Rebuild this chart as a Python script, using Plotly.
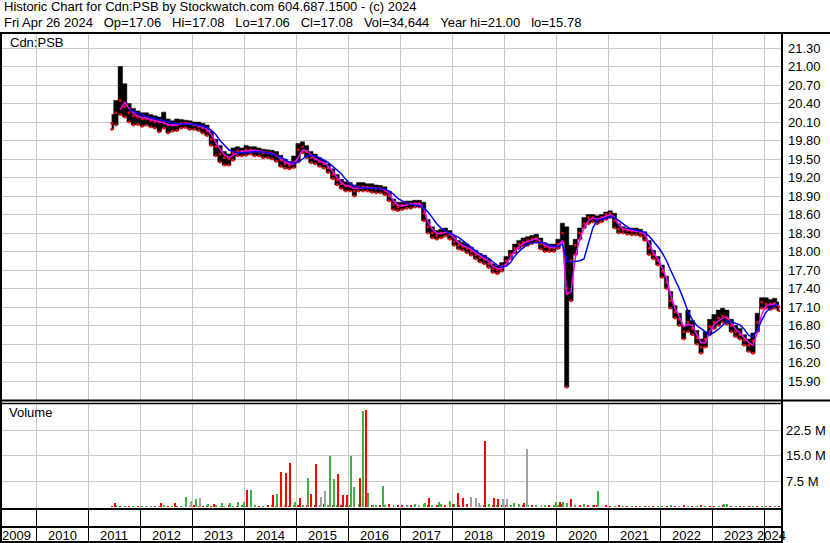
import plotly.graph_objects as go

W, H = 830, 543

# ---------------- data ----------------
months = [f"{y}-{m:02d}-15" for y in range(2011, 2025) for m in range(1, 13)
          if (2011, 6) <= (y, m) <= (2024, 4)]

hi = [20.22, 20.45, 21.00, 20.72, 20.40, 20.32, 20.28,
      20.25, 20.25, 20.22, 20.20, 20.18, 20.26, 20.15, 20.12, 20.15, 20.14, 20.13, 20.12,
      20.10, 20.10, 20.08, 20.05, 19.95, 19.82, 19.72, 19.62, 19.58, 19.68, 19.70, 19.68,
      19.72, 19.70, 19.70, 19.68, 19.66, 19.65, 19.64, 19.62, 19.56, 19.50, 19.46, 19.55,
      19.75, 19.78, 19.72, 19.62, 19.58, 19.52, 19.48, 19.42, 19.34, 19.25, 19.17, 19.13,
      19.12, 19.08, 19.12, 19.12, 19.10, 19.10, 19.08, 19.07, 19.05, 18.98, 18.85, 18.80,
      18.80, 18.82, 18.82, 18.83, 18.83, 18.80, 18.52, 18.40, 18.34, 18.36, 18.38, 18.34,
      18.25, 18.18, 18.15, 18.12, 18.07, 18.02, 17.97, 17.94, 17.88, 17.80, 17.77, 17.82,
      17.92, 18.02, 18.12, 18.18, 18.22, 18.24, 18.26, 18.28, 18.22, 18.14, 18.12, 18.12,
      18.20, 18.46, 18.40, 18.10, 18.20, 18.38, 18.55, 18.60, 18.60, 18.58, 18.60, 18.64,
      18.66, 18.62, 18.45, 18.40, 18.38, 18.38, 18.38, 18.36, 18.32, 18.18, 18.02, 17.92,
      17.78, 17.60, 17.35, 17.12, 17.00, 16.80, 17.05, 16.88, 16.72, 16.58, 16.70, 16.90,
      16.98, 17.05, 17.08, 17.05, 16.90, 16.80, 16.75, 16.65, 16.58, 16.68, 17.00, 17.25,
      17.25, 17.22, 17.24, 17.18]

lo = [19.98, 20.05, 20.22, 20.18, 20.10, 20.05, 20.06,
      20.03, 20.05, 20.02, 20.00, 19.94, 20.00, 19.92, 19.95, 19.96, 20.00, 20.01, 19.98,
      19.98, 19.96, 19.92, 19.88, 19.72, 19.55, 19.45, 19.40, 19.40, 19.48, 19.55, 19.55,
      19.56, 19.58, 19.55, 19.55, 19.52, 19.52, 19.50, 19.46, 19.38, 19.35, 19.34, 19.36,
      19.45, 19.60, 19.52, 19.44, 19.42, 19.38, 19.35, 19.28, 19.18, 19.08, 19.02, 18.98,
      18.98, 18.90, 18.98, 18.98, 18.98, 18.96, 18.95, 18.95, 18.92, 18.82, 18.68, 18.66,
      18.68, 18.70, 18.70, 18.72, 18.72, 18.50, 18.30, 18.22, 18.20, 18.22, 18.25, 18.20,
      18.10, 18.04, 18.02, 17.98, 17.94, 17.88, 17.83, 17.80, 17.74, 17.66, 17.64, 17.68,
      17.78, 17.88, 17.98, 18.05, 18.08, 18.10, 18.13, 18.15, 18.04, 18.00, 18.00, 18.00,
      18.05, 18.15, 15.80, 17.20, 17.95, 18.20, 18.38, 18.45, 18.48, 18.45, 18.48, 18.52,
      18.55, 18.38, 18.30, 18.30, 18.28, 18.27, 18.27, 18.25, 18.18, 17.95, 17.88, 17.78,
      17.58, 17.40, 17.08, 16.92, 16.80, 16.58, 16.70, 16.65, 16.50, 16.35, 16.45, 16.65,
      16.75, 16.80, 16.85, 16.82, 16.70, 16.62, 16.58, 16.48, 16.38, 16.35, 16.70, 17.08,
      17.08, 17.06, 17.08, 17.04]

cl = [20.08, 20.25, 20.45, 20.35, 20.25, 20.20, 20.18,
      20.15, 20.15, 20.12, 20.10, 20.10, 20.08, 20.05, 20.05, 20.05, 20.08, 20.08, 20.07,
      20.05, 20.03, 20.00, 19.95, 19.82, 19.70, 19.58, 19.52, 19.50, 19.60, 19.63, 19.62,
      19.65, 19.65, 19.63, 19.62, 19.60, 19.60, 19.58, 19.55, 19.48, 19.42, 19.40, 19.45,
      19.65, 19.70, 19.62, 19.52, 19.50, 19.45, 19.42, 19.35, 19.25, 19.16, 19.10, 19.06,
      19.05, 18.98, 19.05, 19.05, 19.04, 19.03, 19.02, 19.02, 18.98, 18.90, 18.76, 18.72,
      18.75, 18.77, 18.77, 18.78, 18.78, 18.62, 18.40, 18.30, 18.26, 18.30, 18.32, 18.28,
      18.16, 18.10, 18.08, 18.05, 18.00, 17.95, 17.90, 17.87, 17.80, 17.72, 17.70, 17.76,
      17.85, 17.95, 18.05, 18.12, 18.15, 18.18, 18.20, 18.22, 18.12, 18.08, 18.05, 18.06,
      18.12, 18.30, 17.40, 17.85, 18.10, 18.30, 18.45, 18.55, 18.55, 18.52, 18.55, 18.60,
      18.62, 18.50, 18.36, 18.35, 18.34, 18.33, 18.33, 18.30, 18.25, 18.05, 17.95, 17.85,
      17.68, 17.50, 17.20, 17.02, 16.90, 16.70, 16.85, 16.75, 16.60, 16.45, 16.58, 16.78,
      16.85, 16.92, 16.95, 16.92, 16.80, 16.70, 16.65, 16.56, 16.48, 16.55, 16.85, 17.18,
      17.15, 17.15, 17.16, 17.10]

ma_fast = [None, None, 20.30, 20.42, 20.32, 20.24, 20.20,
           20.17, 20.16, 20.14, 20.12, 20.10, 20.09, 20.06, 20.05, 20.05, 20.07, 20.08, 20.07,
           20.06, 20.04, 20.02, 19.98, 19.90, 19.78, 19.66, 19.57, 19.52, 19.56, 19.60, 19.62,
           19.63, 19.64, 19.64, 19.63, 19.61, 19.60, 19.59, 19.56, 19.50, 19.45, 19.42, 19.42,
           19.52, 19.65, 19.64, 19.56, 19.50, 19.47, 19.44, 19.38, 19.30, 19.20, 19.12, 19.07,
           19.06, 19.02, 19.03, 19.04, 19.04, 19.03, 19.03, 19.02, 19.00, 18.94, 18.82, 18.75,
           18.74, 18.76, 18.77, 18.77, 18.78, 18.70, 18.48, 18.36, 18.29, 18.29, 18.31, 18.30,
           18.22, 18.14, 18.10, 18.07, 18.03, 17.98, 17.93, 17.89, 17.84, 17.76, 17.72, 17.72,
           17.80, 17.90, 18.00, 18.08, 18.13, 18.16, 18.19, 18.21, 18.16, 18.10, 18.07, 18.06,
           18.09, 18.18, 17.30, 17.35, 17.90, 18.20, 18.38, 18.50, 18.54, 18.53, 18.54, 18.57,
           18.60, 18.56, 18.44, 18.37, 18.35, 18.34, 18.33, 18.32, 18.28, 18.12, 17.98, 17.88,
           17.74, 17.56, 17.30, 17.08, 16.95, 16.78, 16.82, 16.80, 16.66, 16.52, 16.52, 16.70,
           16.82, 16.88, 16.92, 16.94, 16.85, 16.74, 16.68, 16.60, 16.52, 16.48, 16.68, 16.98,
           17.12, 17.14, 17.15, 17.12]

ma_slow = [None, None, None, None, 20.30, 20.27, 20.25,
           20.22, 20.19, 20.17, 20.16, 20.14, 20.12, 20.10, 20.08, 20.07, 20.07, 20.07, 20.07,
           20.06, 20.05, 20.03, 20.01, 19.97, 19.90, 19.80, 19.72, 19.65, 19.62, 19.60, 19.60,
           19.60, 19.61, 19.62, 19.62, 19.61, 19.60, 19.58, 19.56, 19.53, 19.49, 19.45, 19.43,
           19.45, 19.50, 19.55, 19.56, 19.55, 19.52, 19.48, 19.44, 19.38, 19.32, 19.26, 19.17,
           19.10, 19.06, 19.04, 19.03, 19.03, 19.03, 19.03, 19.02, 19.01, 18.98, 18.93, 18.86,
           18.82, 18.78, 18.76, 18.75, 18.74, 18.71, 18.64, 18.55, 18.45, 18.38, 18.33, 18.30,
           18.27, 18.23, 18.18, 18.12, 18.06, 18.01, 17.96, 17.92, 17.89, 17.83, 17.78, 17.75,
           17.76, 17.82, 17.92, 18.00, 18.06, 18.12, 18.14, 18.15, 18.15, 18.13, 18.10, 18.08,
           18.08, 18.12, 17.85, 17.83, 17.84, 17.85, 17.88, 18.12, 18.38, 18.51, 18.53, 18.55,
           18.56, 18.55, 18.50, 18.45, 18.40, 18.36, 18.34, 18.32, 18.31, 18.25, 18.17, 18.08,
           17.98, 17.85, 17.70, 17.55, 17.40, 17.22, 17.03, 16.90, 16.80, 16.75, 16.70, 16.65,
           16.69, 16.74, 16.80, 16.88, 16.86, 16.84, 16.81, 16.74, 16.64, 16.62, 16.72, 16.88,
           17.02, 17.08, 17.13, 17.15]

# monthly background volume (millions) and colour code (R=down, G=up, K=unchanged)
vol_base = [0.5, 0.6, 0.4, 0.5, 0.3, 0.4, 0.3,
            0.4, 0.3, 0.5, 0.4, 0.3, 0.6, 0.4, 0.3, 0.5, 0.4, 0.6, 0.5,
            0.6, 0.5, 0.4, 0.6, 0.5, 0.7, 0.5, 0.4, 0.6, 0.5, 0.4, 0.6,
            0.5, 0.7, 0.6, 0.4, 0.5, 0.6, 0.8, 0.5, 0.6, 0.7, 0.5, 0.6,
            0.7, 0.6, 0.8, 0.5, 0.6, 0.7, 0.9, 0.6, 0.7, 0.6, 0.8, 0.7,
            0.8, 0.7, 0.9, 0.6, 0.8, 0.7, 0.6, 0.8, 0.7, 0.9, 0.6, 0.7,
            0.6, 0.8, 0.7, 0.9, 0.6, 1.0, 0.7, 0.8, 0.6, 0.9, 0.7, 0.8,
            0.9, 0.7, 0.8, 1.0, 0.7, 0.9, 0.8, 0.6, 0.9, 0.7, 0.8, 0.6,
            0.7, 0.8, 0.6, 0.9, 0.7, 0.8, 0.6, 0.7, 0.8, 0.6, 0.7, 0.8,
            0.7, 0.9, 1.2, 0.8, 0.6, 0.7, 0.9, 0.6, 0.7, 0.8, 0.5, 0.6,
            0.5, 0.4, 0.6, 0.4, 0.5, 0.3, 0.4, 0.5, 0.3, 0.4, 0.5, 0.4,
            0.5, 0.4, 0.6, 0.5, 0.4, 0.6, 0.4, 0.3, 0.5, 0.7, 0.4, 0.5,
            0.4, 0.5, 0.6, 0.5, 0.4, 0.3, 0.5, 0.4, 0.3, 0.5, 0.4, 0.5,
            0.4, 0.3, 0.5, 0.4]
vol_base_col = list("RGRGRGR" "GRGRKGRGRGRG" "RGRGRGKGRGRG" "GRGRGRGRGKRG" "RGRGRGRGRGRG"
                    "GRGRGRGRGRGR" "RGRGKGRGRGRG" "GRGRGRKRGRGR" "RGRGRGRGKGRG" "GRGRGRGRGRGR"
                    "RGRGRGRGRGRG" "GRGRKRGRGRGR" "RGRGRGRGRGRG" "GRGR")

spike_dates = ["2011-07-08", "2012-05-27", "2012-09-03", "2012-11-19", "2012-12-24", "2013-01-29",
               "2013-02-25", "2013-04-22", "2013-06-04", "2013-07-30", "2013-09-24", "2013-11-19",
               "2014-01-01", "2014-01-22", "2014-02-19", "2014-07-23", "2014-08-20", "2014-09-17",
               "2014-10-22", "2014-11-19", "2014-12-24", "2015-01-29", "2015-02-19", "2015-03-26",
               "2015-04-16", "2015-05-21", "2015-06-25", "2015-07-23", "2015-08-27", "2015-09-24",
               "2015-10-22", "2015-11-26", "2015-12-24", "2016-01-22", "2016-02-12", "2016-03-26",
               "2016-04-16", "2016-05-06", "2016-05-21", "2016-06-25", "2016-09-03", "2017-06-25",
               "2017-07-23", "2017-10-01", "2017-12-17", "2018-01-08", "2018-02-12", "2018-03-18",
               "2018-05-14", "2018-06-18", "2018-07-08", "2018-08-20", "2018-10-22", "2018-11-19",
               "2018-12-24", "2019-01-22", "2019-03-11", "2019-05-21", "2019-06-10", "2020-01-01",
               "2020-01-29", "2020-02-19", "2020-03-18", "2020-04-16", "2020-09-24", "2020-10-22",
               "2023-03-26", "2023-04-16"]
spike_vals = [1.4, 1.2, 1.4, 3.0, 1.9, 2.5, 2.85, 0.9, 0.9, 1.3, 1.4, 1.7,
              1.7, 5.1, 5.1, 3.6, 3.9, 10.4, 10.1, 12.9, 1.7, 2.9, 0.8, 8.7,
              3.8, 12.6, 3.1, 4.9, 15.0, 8.3, 9.8, 3.6, 3.6, 15.0, 6.0, 8.7,
              28.0, 28.3, 4.3, 0.8, 6.2, 1.3, 2.7, 1.5, 2.0, 1.0, 4.2, 2.7,
              3.1, 2.7, 1.3, 19.3, 2.7, 2.5, 2.4, 2.4, 1.2, 1.2, 17.0, 1.5,
              1.6, 1.7, 0.9, 2.5, 0.8, 4.8, 0.9, 1.1]
spike_cols = ["R", "R", "R", "G", "K", "G", "K", "G", "R", "G", "G", "G",
              "G", "R", "G", "R", "G", "R", "R", "R", "G", "R", "G", "G",
              "R", "R", "K", "K", "G", "G", "R", "R", "R", "G", "G", "R",
              "G", "R", "G", "G", "G", "G", "R", "G", "G", "R", "R", "R",
              "K", "K", "K", "R", "R", "R", "K", "K", "G", "R", "K", "G",
              "R", "G", "G", "R", "R", "G", "G", "G"]

price_ticks = [15.90, 16.20, 16.50, 16.80, 17.10, 17.40, 17.70, 18.00, 18.30, 18.60,
               18.90, 19.20, 19.50, 19.80, 20.10, 20.40, 20.70, 21.00, 21.30]
vol_ticks = [7.5, 15.0, 22.5]
vol_tick_text = ["7.5 M", "15.0 M", "22.5 M"]
year_lines = ["2010-01-01", "2011-01-01", "2012-01-01", "2013-01-01", "2014-01-01",
              "2015-01-01", "2016-01-01", "2017-01-01", "2018-01-01", "2019-01-01",
              "2020-01-01", "2021-01-01", "2022-01-01", "2023-01-01", "2024-01-01"]
year_labels = ["2009", "2010", "2011", "2012", "2013", "2014", "2015", "2016",
               "2017", "2018", "2019", "2020", "2021", "2022", "2023", "2024"]
year_label_at = ["2009-08-16", "2010-07-02", "2011-07-02", "2012-07-02", "2013-07-02",
                 "2014-07-02", "2015-07-02", "2016-07-02", "2017-07-02", "2018-07-02",
                 "2019-07-02", "2020-07-02", "2021-07-02", "2022-07-02", "2023-07-02",
                 "2024-02-19"]

SP = "\u00a0\u00a0\u00a0"
header1 = "Historic Chart for Cdn:PSB by Stockwatch.com 604.687.1500 - (c) 2024"
header2 = SP.join(["Fri Apr 26 2024", "Op=17.06", "Hi=17.08", "Lo=17.06", "Cl=17.08",
                   "Vol=34,644", "Year hi=21.00", "lo=15.78"])

# ---------------- styling ----------------
FONT = "Arial, 'Liberation Sans', sans-serif"
GRID = "#c8c8c8"
COLS = {"R": "#ff0000", "G": "#3cb43c", "K": "#a0a0a0"}
X_RANGE = ["2009-05-06", "2024-05-06"]


def px(x):
    return x / W


def py(y):
    return 1 - y / H


XD = [px(2), px(782)]
PRICE_D = [py(400), py(34)]
VOL_D = [py(509), py(403)]
BAND_D = [0, py(509)]

fig = go.Figure()

# price bars (band between monthly high and low)
fig.add_trace(go.Scatter(x=months, y=hi, mode="lines", xaxis="x", yaxis="y",
                         line=dict(color="black", width=0.5, shape="hvh"), hoverinfo="skip"))
fig.add_trace(go.Scatter(x=months, y=lo, mode="lines", xaxis="x", yaxis="y", fill="tonexty",
                         fillcolor="black", line=dict(color="black", width=0.5, shape="hvh"),
                         hoverinfo="skip"))
fig.add_trace(go.Scatter(x=months, y=lo, mode="markers", xaxis="x", yaxis="y",
                         marker=dict(color="red", size=2.5, symbol="square")))
fig.add_trace(go.Scatter(x=months, y=cl, mode="markers", xaxis="x", yaxis="y",
                         marker=dict(color="red", size=2.5, symbol="square")))
fig.add_trace(go.Scatter(x=months, y=ma_fast, mode="lines", xaxis="x", yaxis="y",
                         line=dict(color="#ff00ff", width=1.5)))
fig.add_trace(go.Scatter(x=months, y=ma_slow, mode="lines", xaxis="x", yaxis="y",
                         line=dict(color="#0000ff", width=1.5)))

# volume bars
BARW = 1.2e9
for code in ["R", "G", "K"]:
    bx = [d for d, c in zip(months, vol_base_col) if c == code]
    by = [v for v, c in zip(vol_base, vol_base_col) if c == code]
    fig.add_trace(go.Bar(x=bx, y=by, xaxis="x2", yaxis="y2", width=BARW,
                         marker=dict(color=COLS[code], line=dict(width=0))))
for code in ["R", "G", "K"]:
    bx = [d for d, c in zip(spike_dates, spike_cols) if c == code]
    by = [v for v, c in zip(spike_vals, spike_cols) if c == code]
    fig.add_trace(go.Bar(x=bx, y=by, xaxis="x2", yaxis="y2", width=BARW,
                         marker=dict(color=COLS[code], line=dict(width=0))))

# invisible trace to instantiate bottom band axis
fig.add_trace(go.Scatter(x=[X_RANGE[0]], y=[-1], mode="markers", xaxis="x3", yaxis="y3",
                         marker=dict(size=1, color="rgba(0,0,0,0)"), hoverinfo="skip"))

xcommon = dict(domain=XD, range=X_RANGE, type="date", tickmode="array", tickvals=year_lines,
               showticklabels=False, showgrid=True, gridcolor=GRID, gridwidth=1,
               zeroline=False, showline=False, ticks="")

fig.update_layout(
    width=W, height=H, margin=dict(l=0, r=0, t=0, b=0), autosize=False,
    paper_bgcolor="white", plot_bgcolor="white", showlegend=False,
    barmode="overlay", bargap=0, hovermode=False,
    font=dict(family=FONT, size=13, color="black"),
    xaxis=dict(anchor="y", **xcommon),
    xaxis2=dict(anchor="y2", **xcommon),
    xaxis3=dict(anchor="y3", **{**xcommon, "gridcolor": "black"}),
    yaxis=dict(domain=PRICE_D, range=[15.592, 21.527], side="right", anchor="x",
               tickmode="array", tickvals=price_ticks, ticktext=[f"{v:.2f}" for v in price_ticks],
               showgrid=True, gridcolor=GRID, gridwidth=1, zeroline=False, showline=False,
               ticks="", ticklen=0, ticklabelstandoff=5,
               tickfont=dict(family=FONT, size=13, color="black")),
    yaxis2=dict(domain=VOL_D, range=[-0.44, 30.4], side="right", anchor="x2",
                tickmode="array", tickvals=vol_ticks, ticktext=vol_tick_text,
                showgrid=True, gridcolor=GRID, gridwidth=1, zeroline=False, showline=False,
                ticks="", ticklen=0, ticklabelstandoff=3,
                tickfont=dict(family=FONT, size=13, color="black")),
    yaxis3=dict(domain=BAND_D, range=[0, 1], anchor="x3", showgrid=False, zeroline=False,
                showticklabels=False, showline=False, ticks=""),
)

annotations = [
    dict(text=header1, x=px(2), y=py(7), xref="paper", yref="paper", xanchor="left",
         yanchor="middle", showarrow=False, font=dict(family=FONT, size=13, color="black")),
    dict(text=header2, x=px(2), y=py(22), xref="paper", yref="paper", xanchor="left",
         yanchor="middle", showarrow=False, font=dict(family=FONT, size=13, color="black")),
    dict(text="Cdn:PSB", x=px(8), y=py(42), xref="paper", yref="paper", xanchor="left",
         yanchor="middle", showarrow=False, font=dict(family=FONT, size=13, color="black")),
    dict(text="Volume", x=px(7), y=py(413), xref="paper", yref="paper", xanchor="left",
         yanchor="middle", showarrow=False, font=dict(family=FONT, size=13, color="black")),
]
for lab, at in zip(year_labels, year_label_at):
    annotations.append(dict(text=lab, x=at, y=py(535), xref="x3", yref="paper",
                            xanchor="center", yanchor="middle", showarrow=False,
                            font=dict(family=FONT, size=13, color="black")))
fig.update_layout(annotations=annotations)


def hline(y, x0, x1, w=2):
    return dict(type="line", xref="paper", yref="paper", x0=px(x0), x1=px(x1),
                y0=py(y), y1=py(y), line=dict(color="black", width=w))


def vline(x, y0, y1, w=2):
    return dict(type="line", xref="paper", yref="paper", x0=px(x), x1=px(x),
                y0=py(y0), y1=py(y1), line=dict(color="black", width=w))


shapes = [
    hline(33, 0, 830), vline(1, 33, 543), vline(782, 33, 543),
    hline(400.5, 0, 830), hline(403.5, 0, 782, 1.5),
    hline(509, 0, 782), hline(527, 0, 782), hline(542, 0, 782),
]
fig.update_layout(shapes=shapes)

fig.write_html("out.html", config={"displayModeBar": False, "staticPlot": True},
               post_script="document.body.style.margin='0';document.body.style.overflow='hidden';")
